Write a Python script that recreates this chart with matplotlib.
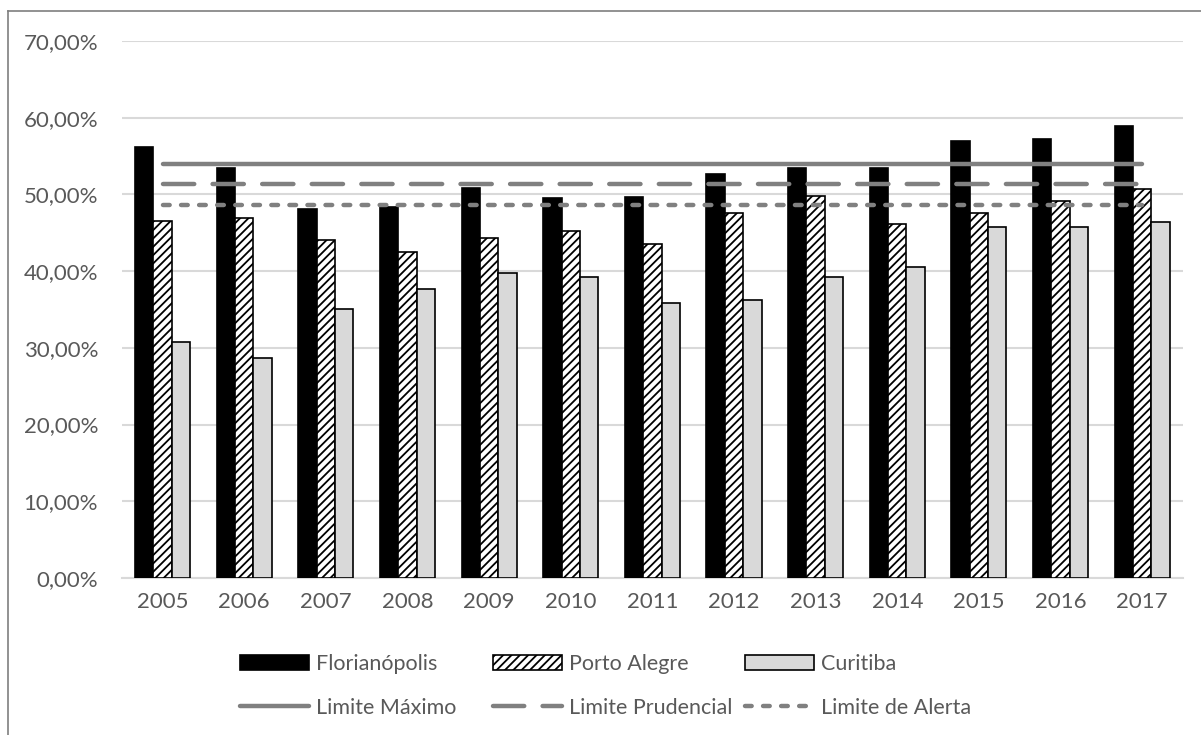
import numpy as np
import matplotlib
matplotlib.use('Agg')
import matplotlib.pyplot as plt
from matplotlib.patches import Patch
from matplotlib.lines import Line2D

plt.rcParams['font.family'] = ['Lato', 'DejaVu Sans']
plt.rcParams['hatch.linewidth'] = 1.3
plt.rcParams['lines.scale_dashes'] = False

anos = ['2005', '2006', '2007', '2008', '2009', '2010', '2011',
        '2012', '2013', '2014', '2015', '2016', '2017']
florianopolis = [56.2, 53.5, 48.1, 48.3, 50.8, 49.5, 49.7, 52.6, 53.5, 53.5, 56.9, 57.2, 58.9]
porto_alegre = [46.5, 46.9, 44.1, 42.5, 44.3, 45.2, 43.5, 47.6, 49.8, 46.1, 47.6, 49.2, 50.7]
curitiba = [30.8, 28.7, 35.1, 37.7, 39.8, 39.3, 35.9, 36.2, 39.3, 40.6, 45.7, 45.7, 46.4]

limite_maximo = 54.0
limite_prudencial = 51.3
limite_alerta = 48.6

W, H = 1201, 735
fig = plt.figure(figsize=(W / 100, H / 100), dpi=100)
ax = fig.add_axes([121.7 / W, 1 - 578 / H, (1183 - 121.7) / W, (578 - 41) / H])

texto = '#595959'
cinza_linha = '#808080'
x = np.arange(len(anos))
w = 0.225

ax.bar(x - w, florianopolis, w, color='black', edgecolor='black', linewidth=1.2, zorder=3)
ax.bar(x, porto_alegre, w, color='white', edgecolor='black', hatch='////', linewidth=1.2, zorder=3)
ax.bar(x + w, curitiba, w, color='#d9d9d9', edgecolor='black', linewidth=1.2, zorder=3)

estilo_max = '-'
estilo_pru = (0, (22.5, 13.2))
estilo_ale = (0, (4.8, 8.2))
ax.plot(x, [limite_maximo] * len(x), color=cinza_linha, lw=3.2, ls=estilo_max,
        solid_capstyle='round', zorder=4)
ax.plot(x, [limite_prudencial] * len(x), color=cinza_linha, lw=3.2, ls=estilo_pru,
        dash_capstyle='round', zorder=4)
ax.plot(x, [limite_alerta] * len(x), color=cinza_linha, lw=3.2, ls=estilo_ale,
        dash_capstyle='round', zorder=4)

ax.set_xlim(-0.5, len(anos) - 0.5)
ax.set_ylim(0, 70)
ax.set_yticks(np.arange(0, 71, 10))
ax.set_yticklabels([f'{v:.2f}%'.replace('.', ',') for v in np.arange(0, 71, 10)])
ax.set_xticks(x)
ax.set_xticklabels(anos)
ax.tick_params(length=0, labelsize=16, labelcolor=texto)
ax.tick_params(axis='y', pad=17)
ax.tick_params(axis='x', pad=10)
ax.grid(axis='y', color='#d9d9d9', lw=1.5, zorder=0)
for s in ['top', 'right', 'left']:
    ax.spines[s].set_visible(False)
ax.spines['bottom'].set_color('#d9d9d9')
ax.spines['bottom'].set_linewidth(1.5)
ax.spines['bottom'].set_zorder(2)

# chart border (top and left edges)
fig.add_artist(Line2D([7.5 / W, 7.5 / W], [0, 1 - 11 / H], color='#7f7f7f', lw=1.2,
                      transform=fig.transFigure))
fig.add_artist(Line2D([7.5 / W, 1], [1 - 11 / H, 1 - 11 / H], color='#7f7f7f', lw=1.2,
                      transform=fig.transFigure))

# legend: one entry per slot, two rows of three
entradas = [
    (Patch(facecolor='black', edgecolor='black', lw=1.2), 'Florianópolis', 240, 664),
    (Patch(facecolor='white', edgecolor='black', hatch='////', lw=1.2), 'Porto Alegre', 493, 664),
    (Patch(facecolor='#d9d9d9', edgecolor='black', lw=1.2), 'Curitiba', 745, 664),
    (Line2D([], [], color=cinza_linha, lw=3.2, ls=estilo_max, solid_capstyle='round'),
     'Limite Máximo', 240, 708),
    (Line2D([], [], color=cinza_linha, lw=3.2, ls=estilo_pru, dash_capstyle='round'),
     'Limite Prudencial', 493, 708),
    (Line2D([], [], color=cinza_linha, lw=3.2, ls=estilo_ale, dash_capstyle='round'),
     'Limite de Alerta', 745, 708),
]
for h, rotulo, px, py in entradas:
    fig.legend(handles=[h], labels=[rotulo], loc='center left',
               bbox_to_anchor=(px / W, 1 - py / H), frameon=False,
               borderpad=0, borderaxespad=0, fontsize=15.5, labelcolor=texto,
               handlelength=3.2, handleheight=0.7, handletextpad=0.33)

fig.savefig('out.png', dpi=100)
